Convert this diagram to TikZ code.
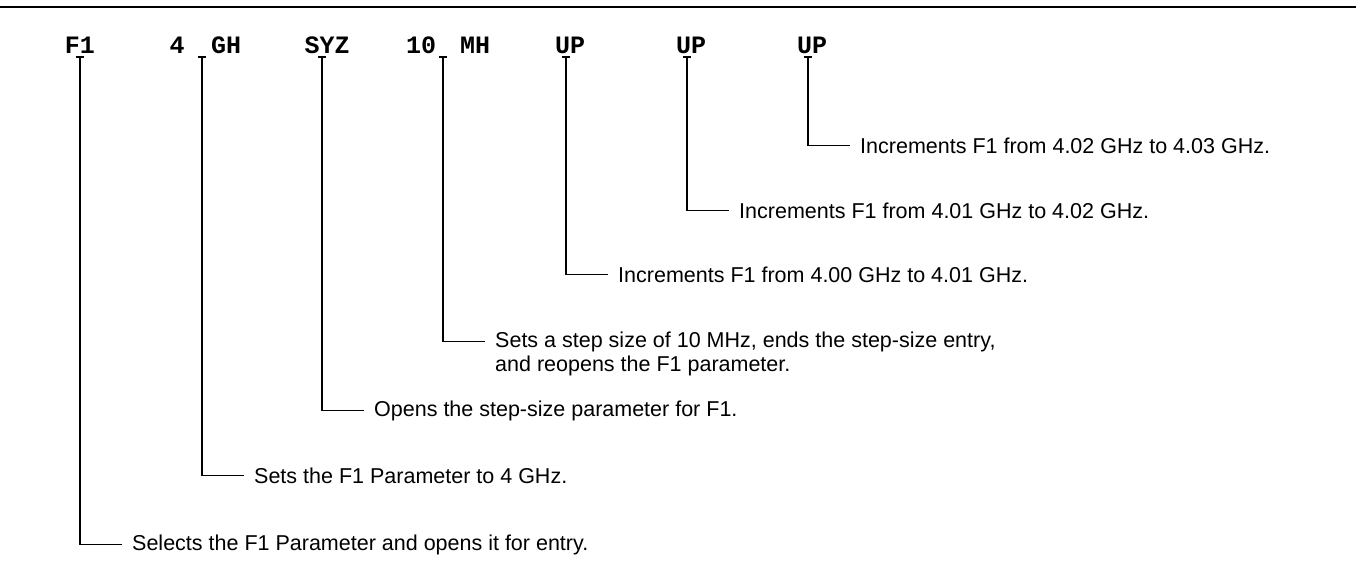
\documentclass[tikz,border=0pt]{standalone}
\usepackage{fontspec}
\setmainfont{Liberation Sans}
\newfontfamily\keyfont{Liberation Mono}

\tikzset{
	key/.style={font=\keyfont\bfseries\fontsize{25}{27}\selectfont, inner sep=0pt, anchor=base},
	desc/.style={font=\fontsize{21.5}{24}\selectfont, inner sep=0pt, anchor=base west},
	lead/.style={line width=1.1pt},
}

\begin{document}
\begin{tikzpicture}[x=1pt,y=-1pt]
			\useasboundingbox (0,0) rectangle (1356,571);
			\draw[line width=2pt] (0,7) -- (1356,7);
			
			\node[key] (f1) at (80,53) {F1};
			\node[key] (four) at (177,53) {4};
			\node[key] (gh) at (226,53) {GH};
			\node[key] (syz) at (327,53) {SYZ};
			\node[key] (ten) at (421,53) {10};
			\node[key] (mh) at (475,53) {MH};
			\node[key] (upa) at (570,53) {UP};
			\node[key] (upb) at (691,53) {UP};
			\node[key] (upc) at (812,53) {UP};
			
			\coordinate (t1) at (80,57);
			\coordinate (t2) at (202,57);
			\coordinate (t3) at (322,57);
			\coordinate (t4) at (443,57);
			\coordinate (t5) at (566,57);
			\coordinate (t6) at (687,57);
			\coordinate (t7) at (808,57);
			
			\node[desc] (d1) at (132,550) {Selects the F1 Parameter and opens it for entry.};
			\node[desc] (d2) at (254,483) {Sets the F1 Parameter to 4 GHz.};
			\node[desc] (d3) at (374,416) {Opens the step-size parameter for F1.};
			\node[desc] (d4) at (495,347) {Sets a step size of 10 MHz, ends the step-size entry,};
			\node[desc] (d4b) at ([yshift=-24pt]d4.base west) {and reopens the F1 parameter.};
			\node[desc] (d5) at (618,282) {Increments F1 from 4.00 GHz to 4.01 GHz.};
			\node[desc] (d6) at (739,218) {Increments F1 from 4.01 GHz to 4.02 GHz.};
			\node[desc] (d7) at (860,153) {Increments F1 from 4.02 GHz to 4.03 GHz.};
			
			\foreach \t/\d in {t1/d1, t2/d2, t3/d3, t4/d4, t5/d5, t6/d6, t7/d7}{
				\draw[lead] ([xshift=-4pt]\t) -- ([xshift=4pt]\t);
				\draw[lead] (\t) -- (\t |- \d.west) -- ([xshift=-10pt]\d.west);
			}
		\end{tikzpicture}
\end{document}
